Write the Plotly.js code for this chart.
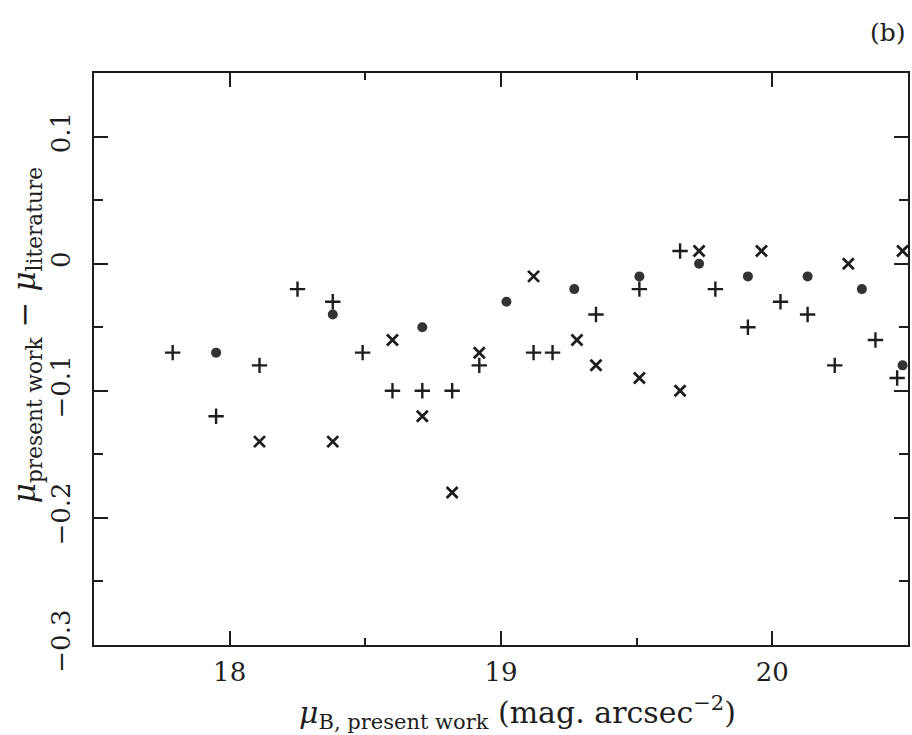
<!DOCTYPE html>
<html>
<head>
<meta charset="utf-8">
<script src="https://cdn.plot.ly/plotly-3.0.1.min.js"></script>
<style>html,body{margin:0;padding:0;background:#fff;}#chart{width:912px;height:735px;}</style>
</head>
<body>
<div id="chart"></div>
<script>
// Plus markers (+)
const plusX = [17.79, 18.11, 17.95, 18.25, 18.38, 18.49, 18.60, 18.71, 18.82, 18.92, 19.12, 19.19, 19.35, 19.51, 19.66, 19.79, 19.91, 20.03, 20.13, 20.23, 20.38, 20.46];
const plusY = [-0.07, -0.08, -0.12, -0.02, -0.03, -0.07, -0.10, -0.10, -0.10, -0.08, -0.07, -0.07, -0.04, -0.02, 0.01, -0.02, -0.05, -0.03, -0.04, -0.08, -0.06, -0.09];
// Cross markers (x)
const crossX = [18.11, 18.38, 18.60, 18.71, 18.82, 18.92, 19.12, 19.28, 19.35, 19.51, 19.66, 19.73, 19.96, 20.28, 20.48];
const crossY = [-0.14, -0.14, -0.06, -0.12, -0.18, -0.07, -0.01, -0.06, -0.08, -0.09, -0.10, 0.01, 0.01, 0.00, 0.01];
// Filled dots
const dotX = [17.95, 18.38, 18.71, 19.02, 19.27, 19.51, 19.73, 19.91, 20.13, 20.33, 20.48];
const dotY = [-0.07, -0.04, -0.05, -0.03, -0.02, -0.01, 0.00, -0.01, -0.01, -0.02, -0.08];

const xTickVals = [18, 19, 20];
const yTickVals = [0.1, 0, -0.1, -0.2, -0.3];
const yTickText = ['0.1', '0', '\u22120.1', '\u22120.2', '\u22120.3'];

const ink = '#1e1e1e';
const serif = 'DejaVu Serif, Liberation Serif, serif';

const traces = [
  {x: plusX, y: plusY, type: 'scatter', mode: 'markers', name: 'plus', cliponaxis: false,
   marker: {symbol: 'cross-thin', size: 11, line: {width: 2.4, color: ink}, color: ink}},
  {x: crossX, y: crossY, type: 'scatter', mode: 'markers', name: 'cross', cliponaxis: false,
   marker: {symbol: 'x-thin', size: 11, line: {width: 2.8, color: ink}, color: ink}},
  {x: dotX, y: dotY, type: 'scatter', mode: 'markers', name: 'dot', cliponaxis: false,
   marker: {symbol: 'circle', size: 10, color: '#333', line: {width: 0}}}
];

const layout = {
  width: 912, height: 735,
  margin: {l: 94, r: 4, t: 73, b: 90},
  paper_bgcolor: '#fff', plot_bgcolor: '#fff',
  showlegend: false,
  font: {family: serif, color: ink},
  xaxis: {
    range: [17.5, 20.5], showgrid: false, zeroline: false,
    showline: true, linecolor: ink, linewidth: 2, mirror: 'ticks',
    ticks: 'inside', ticklen: 14, tickwidth: 2, tickcolor: ink,
    tickvals: xTickVals, ticktext: xTickVals.map(String),
    tickfont: {family: serif, size: 26, color: ink},
    ticklabelstandoff: 3,
    minor: {dtick: 0.5, ticks: 'inside', ticklen: 7, tickwidth: 2, tickcolor: ink, showgrid: false}
  },
  yaxis: {
    range: [-0.3, 0.15], showgrid: false, zeroline: false,
    showline: true, linecolor: ink, linewidth: 2, mirror: 'ticks',
    ticks: 'inside', ticklen: 14, tickwidth: 2, tickcolor: ink,
    tickvals: yTickVals, ticktext: yTickText, tickangle: -90,
    tickfont: {family: serif, size: 26, color: ink},
    ticklabelstandoff: 12,
    minor: {dtick: 0.05, ticks: 'inside', ticklen: 9, tickwidth: 2, tickcolor: ink, showgrid: false}
  },
  annotations: [
    {text: '(b)', xref: 'paper', yref: 'paper', x: 1, y: 1.07, xanchor: 'right', yanchor: 'middle',
     showarrow: false, font: {family: serif, size: 25, color: ink}},
    {text: '<i>μ</i><sub>B, present work</sub> (mag. arcsec<sup>\u22122</sup>)',
     xref: 'paper', yref: 'paper', x: 0.52, y: -0.118, xanchor: 'center', yanchor: 'middle',
     showarrow: false, font: {family: serif, size: 30, color: ink}},
    {text: '<i>μ</i><sub>present work</sub> \u2212 <i>μ</i><sub>literature</sub>',
     xref: 'paper', yref: 'paper', x: -0.082, y: 0.542, xanchor: 'center', yanchor: 'middle',
     textangle: -90, showarrow: false, font: {family: serif, size: 31, color: ink}}
  ]
};

Plotly.newPlot('chart', traces, layout, {displayModeBar: false, staticPlot: true});
</script>
</body>
</html>
